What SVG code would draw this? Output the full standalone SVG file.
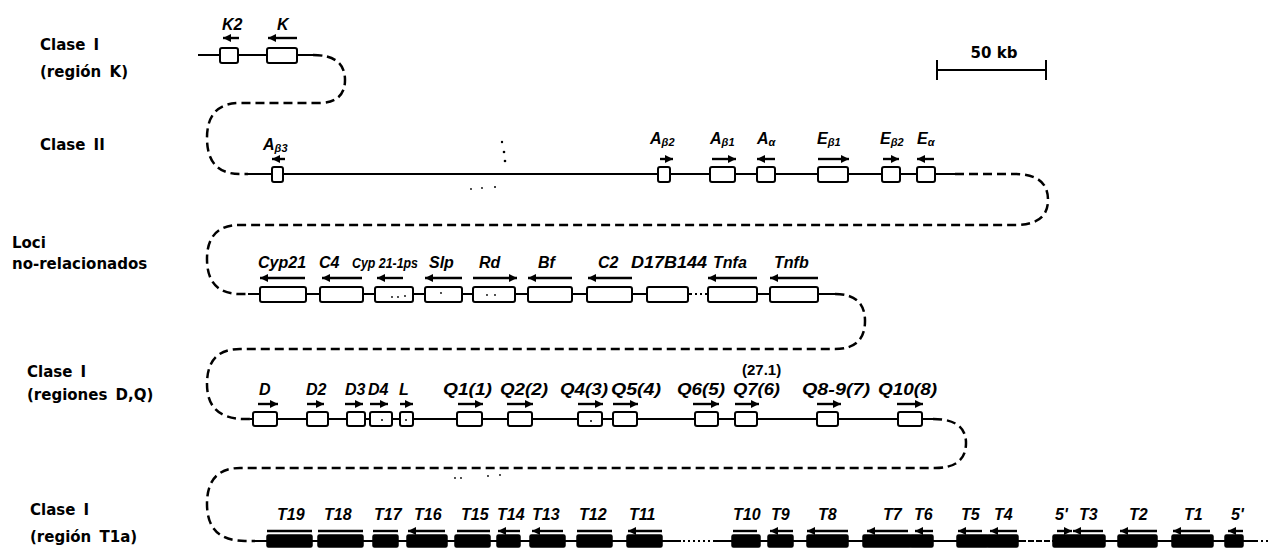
<svg xmlns="http://www.w3.org/2000/svg" width="1271" height="550" viewBox="0 0 1271 550">
<defs>
<marker id="ah" viewBox="0 0 10 10" refX="10" refY="5" markerWidth="8" markerHeight="8" markerUnits="userSpaceOnUse" orient="auto"><path d="M0,0 L10,5 L0,10 z" fill="#000"/></marker>
<style>
.ln{stroke:#000;stroke-width:2;fill:none}
.dot{stroke:#000;stroke-width:2;fill:none;stroke-dasharray:2 3}
.dash{stroke:#000;stroke-width:2.5;fill:none;stroke-dasharray:9 5}
.bx{fill:#fff;stroke:#000;stroke-width:2}
.bb{fill:#000;stroke:#000;stroke-width:1.5}
.ar{stroke:#000;stroke-width:2.4;fill:none;marker-end:url(#ah)}
.br{stroke:#000;stroke-width:2.4;fill:none}
.g{font-family:"Liberation Sans",Arial,sans-serif;font-weight:bold;font-style:italic;font-size:16px;fill:#000}
.sub{font-size:11px}
.lab{font-family:"DejaVu Sans",sans-serif;font-weight:bold;font-size:15px;word-spacing:3px;fill:#000}
.num{font-family:"Liberation Sans",Arial,sans-serif;font-weight:bold;font-size:15px;fill:#000}
.sc{font-family:"DejaVu Sans",sans-serif;font-weight:bold;font-size:15px;fill:#000}
.sp{fill:#000}
</style>
</defs>
<rect x="0" y="0" width="1271" height="550" fill="#fff"/>

<g id="labels">
<text class="lab" x="40" y="50">Clase I</text>
<text class="lab" x="40" y="77">(región K)</text>
<text class="lab" x="40" y="150">Clase II</text>
<text class="lab" x="12" y="248">Loci</text>
<text class="lab" x="12" y="269">no-relacionados</text>
<text class="lab" x="27" y="377">Clase I</text>
<text class="lab" x="27" y="400">(regiones D,Q)</text>
<text class="lab" x="30" y="515">Clase I</text>
<text class="lab" x="30" y="542">(región T1a)</text>
</g>

<g id="scale">
<text class="sc" x="994" y="58" text-anchor="middle">50 kb</text>
<line class="ln" x1="937" y1="70" x2="1046" y2="70"/>
<line class="ln" x1="937" y1="60" x2="937" y2="80"/>
<line class="ln" x1="1046" y1="60" x2="1046" y2="80"/>
</g>

<g id="connectors">
<line class="ln" x1="198" y1="55" x2="313" y2="55"/>
<path class="dash" d="M313,55 Q345,55 345,80 Q345,103 318,103 L240,103 Q207,103 207,138 Q207,174 240,174 L248,174"/>
<line class="ln" x1="248" y1="174" x2="955" y2="174"/>
<path class="dash" d="M955,174 L1015,174 Q1048,174 1048,200 Q1048,225 1015,225 L240,225 Q207,225 207,259 Q207,294 240,294 L248,294"/>
<line class="ln" x1="248" y1="294" x2="690" y2="294"/>
<line class="dot" x1="690" y1="294" x2="708" y2="294"/>
<line class="ln" x1="706" y1="294" x2="835" y2="294"/>
<path class="dash" d="M835,294 Q865,294 865,321 Q865,349 835,349 L240,349 Q207,349 207,384 Q207,419 245,419 L250,419"/>
<line class="ln" x1="250" y1="419" x2="933" y2="419"/>
<path class="dash" d="M933,419 Q966,419 966,443 Q966,468 935,468 L240,468 Q207,468 207,504 Q207,541 245,541 L255,541"/>
<line class="ln" x1="255" y1="541" x2="681" y2="541"/>
<line class="dot" x1="683" y1="541" x2="714" y2="541"/>
<line class="ln" x1="714" y1="541" x2="1021" y2="541"/>
<line class="ln" x1="1020" y1="541" x2="1054" y2="541" stroke-dasharray="6 2"/>
<line class="ln" x1="1053" y1="541" x2="1258" y2="541"/>
<line class="dot" x1="1261" y1="541" x2="1271" y2="541"/>
</g>

<g id="noise">
<circle class="sp" cx="502" cy="142" r="1.2"/>
<circle class="sp" cx="504" cy="152" r="1.3"/>
<circle class="sp" cx="505" cy="161" r="1.3"/>
<circle class="sp" cx="471" cy="189" r="0.9"/>
<circle class="sp" cx="482" cy="188" r="0.9"/>
<circle class="sp" cx="495" cy="187" r="1"/>
<circle class="sp" cx="455" cy="478" r="0.9"/>
<circle class="sp" cx="461" cy="478" r="0.9"/>
<circle class="sp" cx="488" cy="476" r="0.9"/>
<circle class="sp" cx="500" cy="475" r="0.9"/>
</g>

<!-- Row 1 -->
<g id="K2"><rect class="bx" x="220" y="48" width="18" height="15" rx="2"/><line class="ar" x1="239" y1="38" x2="223" y2="38"/><text class="g" x="222" y="30">K2</text></g>
<g id="K"><rect class="bx" x="267" y="48" width="30" height="15" rx="2"/><line class="ar" x1="297" y1="38" x2="268" y2="38"/><text class="g" x="277" y="30">K</text></g>

<!-- Row 2 -->
<g id="Ab3"><rect class="bx" x="272" y="167" width="11" height="15" rx="2"/><line class="ar" x1="285" y1="159" x2="272" y2="159"/><text class="g" x="263" y="150">A<tspan class="sub" dy="2">β3</tspan></text></g>
<g id="Ab2"><rect class="bx" x="658" y="167" width="12" height="15" rx="2"/><line class="ar" x1="660" y1="159" x2="673" y2="159"/><text class="g" x="650" y="144">A<tspan class="sub" dy="2">β2</tspan></text></g>
<g id="Ab1"><rect class="bx" x="710" y="167" width="25" height="15" rx="2"/><line class="ar" x1="712" y1="159" x2="736" y2="159"/><text class="g" x="710" y="144">A<tspan class="sub" dy="2">β1</tspan></text></g>
<g id="Aa"><rect class="bx" x="757" y="167" width="18" height="15" rx="2"/><line class="ar" x1="775" y1="159" x2="757" y2="159"/><text class="g" x="757" y="144">A<tspan class="sub" dy="2">α</tspan></text></g>
<g id="Eb1"><rect class="bx" x="818" y="167" width="30" height="15" rx="2"/><line class="ar" x1="818" y1="159" x2="849" y2="159"/><text class="g" x="817" y="144">E<tspan class="sub" dy="2">β1</tspan></text></g>
<g id="Eb2"><rect class="bx" x="882" y="167" width="18" height="15" rx="2"/><line class="ar" x1="883" y1="159" x2="899" y2="159"/><text class="g" x="880" y="144">E<tspan class="sub" dy="2">β2</tspan></text></g>
<g id="Ea"><rect class="bx" x="917" y="167" width="18" height="15" rx="2"/><line class="ar" x1="934" y1="159" x2="917" y2="159"/><text class="g" x="917" y="144">E<tspan class="sub" dy="2">α</tspan></text></g>

<!-- Row 3 -->
<g id="Cyp21"><rect class="bx" x="260" y="287" width="46" height="15" rx="2"/><line class="ar" x1="305" y1="278" x2="260" y2="278"/><text class="g" x="258" y="268">Cyp21</text></g>
<g id="C4"><rect class="bx" x="320" y="287" width="43" height="15" rx="2"/><line class="ar" x1="362" y1="278" x2="322" y2="278"/><text class="g" x="319" y="268">C4</text></g>
<g id="Cyp21-1ps"><rect class="bx" x="375" y="287" width="38" height="15" rx="2"/><circle class="sp" cx="392" cy="297" r="0.9"/><circle class="sp" cx="398" cy="297" r="0.9"/><circle class="sp" cx="405" cy="296" r="0.9"/><line class="ar" x1="403" y1="278" x2="377" y2="278"/><text class="g" x="352" y="268" style="font-size:14px" textLength="66" lengthAdjust="spacingAndGlyphs">Cyp 21-1ps</text></g>
<g id="Slp"><rect class="bx" x="425" y="287" width="37" height="15" rx="2"/><circle class="sp" cx="441" cy="293" r="0.9"/><line class="ar" x1="462" y1="278" x2="425" y2="278"/><text class="g" x="429" y="268">Slp</text></g>
<g id="Rd"><rect class="bx" x="473" y="287" width="42" height="15" rx="2"/><circle class="sp" cx="487" cy="295" r="0.9"/><circle class="sp" cx="495" cy="295" r="0.9"/><line class="ar" x1="473" y1="278" x2="517" y2="278"/><text class="g" x="479" y="268">Rd</text></g>
<g id="Bf"><rect class="bx" x="528" y="287" width="44" height="15" rx="2"/><line class="ar" x1="572" y1="278" x2="528" y2="278"/><text class="g" x="538" y="268">Bf</text></g>
<g id="C2"><rect class="bx" x="587" y="287" width="45" height="15" rx="2"/><line class="ar" x1="632" y1="278" x2="588" y2="278"/><text class="g" x="598" y="268">C2</text></g>
<g id="D17B144"><rect class="bx" x="647" y="287" width="41" height="15" rx="2"/><text class="g" x="631" y="268" textLength="76" lengthAdjust="spacingAndGlyphs">D17B144</text></g>
<g id="Tnfa"><rect class="bx" x="708" y="287" width="49" height="15" rx="2"/><line class="ar" x1="757" y1="278" x2="708" y2="278"/><text class="g" x="713" y="268">Tnfa</text></g>
<g id="Tnfb"><rect class="bx" x="770" y="287" width="48" height="15" rx="2"/><line class="ar" x1="818" y1="278" x2="770" y2="278"/><text class="g" x="774" y="268">Tnfb</text></g>

<!-- Row 4 -->
<g id="D"><rect class="bx" x="253" y="412" width="24" height="14" rx="2"/><line class="ar" x1="258" y1="404" x2="278" y2="404"/><text class="g" x="259" y="395">D</text></g>
<g id="D2"><rect class="bx" x="307" y="412" width="21" height="14" rx="2"/><line class="ar" x1="307" y1="404" x2="324" y2="404"/><text class="g" x="306" y="395">D2</text></g>
<g id="D3"><rect class="bx" x="347" y="412" width="18" height="14" rx="2"/><line class="ar" x1="345" y1="404" x2="363" y2="404"/><text class="g" x="345" y="395">D3</text></g>
<g id="D4"><rect class="bx" x="370" y="412" width="22" height="14" rx="2"/><circle class="sp" cx="382" cy="420" r="1"/><line class="ar" x1="370" y1="404" x2="388" y2="404"/><text class="g" x="368" y="395">D4</text></g>
<g id="L"><rect class="bx" x="400" y="412" width="13" height="14" rx="2"/><circle class="sp" cx="406" cy="420" r="1"/><line class="ar" x1="400" y1="404" x2="413" y2="404"/><text class="g" x="399" y="395">L</text></g>
<g id="Q1"><rect class="bx" x="457" y="412" width="25" height="14" rx="2"/><line class="ar" x1="458" y1="404" x2="483" y2="404"/><text class="g" x="443" y="395" textLength="49" lengthAdjust="spacingAndGlyphs">Q1(1)</text></g>
<g id="Q2"><rect class="bx" x="508" y="412" width="24" height="14" rx="2"/><line class="ar" x1="507" y1="404" x2="533" y2="404"/><text class="g" x="500" y="395" textLength="48" lengthAdjust="spacingAndGlyphs">Q2(2)</text></g>
<g id="Q4"><rect class="bx" x="578" y="412" width="24" height="14" rx="2"/><circle class="sp" cx="591" cy="421" r="1"/><line class="ar" x1="578" y1="404" x2="603" y2="404"/><text class="g" x="560" y="395" textLength="48" lengthAdjust="spacingAndGlyphs">Q4(3)</text></g>
<g id="Q5"><rect class="bx" x="613" y="412" width="24" height="14" rx="2"/><line class="ar" x1="613" y1="404" x2="638" y2="404"/><text class="g" x="611" y="395" textLength="50" lengthAdjust="spacingAndGlyphs">Q5(4)</text></g>
<g id="Q6"><rect class="bx" x="695" y="412" width="23" height="14" rx="2"/><line class="ar" x1="693" y1="404" x2="719" y2="404"/><text class="g" x="677" y="395" textLength="48" lengthAdjust="spacingAndGlyphs">Q6(5)</text></g>
<g id="Q7"><rect class="bx" x="735" y="412" width="22" height="14" rx="2"/><line class="ar" x1="735" y1="404" x2="759" y2="404"/><text class="g" x="733" y="395" textLength="47" lengthAdjust="spacingAndGlyphs">Q7(6)</text><text class="num" x="742" y="375">(27.1)</text></g>
<g id="Q8-9"><rect class="bx" x="817" y="412" width="21" height="14" rx="2"/><line class="ar" x1="817" y1="404" x2="841" y2="404"/><text class="g" x="802" y="395" textLength="68" lengthAdjust="spacingAndGlyphs">Q8-9(7)</text></g>
<g id="Q10"><rect class="bx" x="898" y="412" width="24" height="14" rx="2"/><line class="ar" x1="897" y1="404" x2="923" y2="404"/><text class="g" x="878" y="395" textLength="59" lengthAdjust="spacingAndGlyphs">Q10(8)</text></g>

<!-- Row 5 -->
<g id="T19"><rect class="bb" x="267" y="535" width="45" height="12" rx="1.5"/><line class="br" x1="267" y1="531" x2="312" y2="531"/><text class="g" x="277" y="520">T19</text></g>
<g id="T18"><rect class="bb" x="318" y="535" width="45" height="12" rx="1.5"/><line class="br" x1="318" y1="531" x2="363" y2="531"/><text class="g" x="324" y="520">T18</text></g>
<g id="T17"><rect class="bb" x="373" y="535" width="25" height="12" rx="1.5"/><line class="br" x1="373" y1="531" x2="398" y2="531"/><text class="g" x="374" y="520">T17</text></g>
<g id="T16"><rect class="bb" x="407" y="535" width="40" height="12" rx="1.5"/><line class="ar" x1="445" y1="531" x2="408" y2="531"/><text class="g" x="414" y="520">T16</text></g>
<g id="T15"><rect class="bb" x="455" y="535" width="35" height="12" rx="1.5"/><line class="br" x1="457" y1="531" x2="490" y2="531"/><text class="g" x="461" y="520">T15</text></g>
<g id="T14"><rect class="bb" x="497" y="535" width="23" height="12" rx="1.5"/><line class="ar" x1="520" y1="531" x2="498" y2="531"/><text class="g" x="497" y="520">T14</text></g>
<g id="T13"><rect class="bb" x="530" y="535" width="35" height="12" rx="1.5"/><line class="ar" x1="563" y1="531" x2="532" y2="531"/><text class="g" x="532" y="520">T13</text></g>
<g id="T12"><rect class="bb" x="577" y="535" width="35" height="12" rx="1.5"/><line class="br" x1="577" y1="531" x2="612" y2="531"/><text class="g" x="579" y="520">T12</text></g>
<g id="T11"><rect class="bb" x="627" y="535" width="35" height="12" rx="1.5"/><line class="ar" x1="662" y1="531" x2="628" y2="531"/><text class="g" x="629" y="520">T11</text></g>
<g id="T10"><rect class="bb" x="732" y="535" width="28" height="12" rx="1.5"/><line class="br" x1="733" y1="531" x2="757" y2="531"/><text class="g" x="733" y="520">T10</text></g>
<g id="T9"><rect class="bb" x="768" y="535" width="25" height="12" rx="1.5"/><line class="ar" x1="793" y1="531" x2="770" y2="531"/><text class="g" x="771" y="520">T9</text></g>
<g id="T8"><rect class="bb" x="807" y="535" width="41" height="12" rx="1.5"/><line class="ar" x1="848" y1="531" x2="807" y2="531"/><text class="g" x="818" y="520">T8</text></g>
<g id="T7"><rect class="bb" x="863" y="535" width="48" height="12" rx="1.5"/><line class="ar" x1="908" y1="531" x2="867" y2="531"/><text class="g" x="883" y="520">T7</text></g>
<g id="T6"><rect class="bb" x="910" y="535" width="23" height="12" rx="1.5"/><line class="ar" x1="933" y1="531" x2="915" y2="531"/><text class="g" x="914" y="520">T6</text></g>
<g id="T5"><rect class="bb" x="957" y="535" width="31" height="12" rx="1.5"/><line class="ar" x1="982" y1="531" x2="958" y2="531"/><text class="g" x="961" y="520">T5</text></g>
<g id="T4"><rect class="bb" x="987" y="535" width="31" height="12" rx="1.5"/><line class="ar" x1="1017" y1="531" x2="990" y2="531"/><text class="g" x="994" y="520">T4</text></g>
<g id="T3-5p"><rect class="bb" x="1053" y="535" width="52" height="12" rx="1.5"/><line class="ar" x1="1057" y1="531" x2="1072" y2="531"/><line class="ar" x1="1103" y1="531" x2="1073" y2="531"/><text class="g" x="1055" y="520">5'</text><text class="g" x="1079" y="520">T3</text></g>
<g id="T2"><rect class="bb" x="1118" y="535" width="39" height="12" rx="1.5"/><line class="ar" x1="1157" y1="531" x2="1120" y2="531"/><text class="g" x="1129" y="520">T2</text></g>
<g id="T1"><rect class="bb" x="1172" y="535" width="41" height="12" rx="1.5"/><line class="ar" x1="1210" y1="531" x2="1173" y2="531"/><text class="g" x="1184" y="520">T1</text></g>
<g id="T1-5p"><rect class="bb" x="1225" y="535" width="18" height="12" rx="1.5"/><line class="ar" x1="1243" y1="531" x2="1228" y2="531"/><text class="g" x="1231" y="520">5'</text></g>
</svg>
